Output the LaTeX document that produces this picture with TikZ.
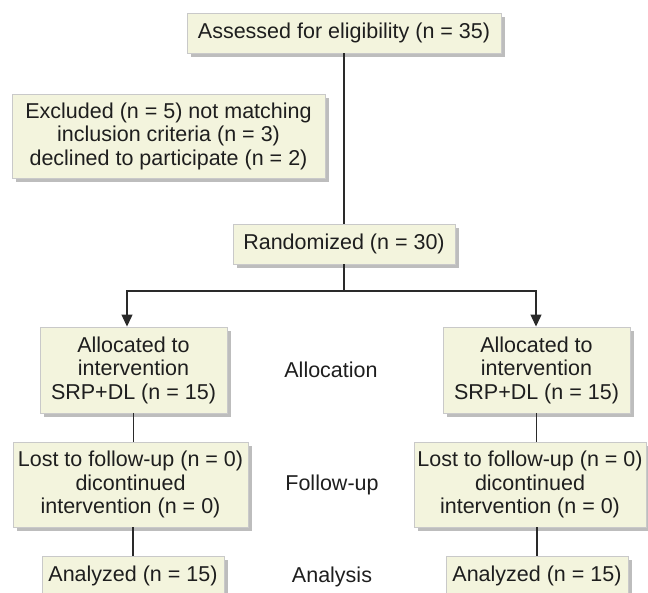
\documentclass[tikz,border=0pt]{standalone}
\usepackage{fontspec}
\setmainfont{Liberation Sans}
\usetikzlibrary{arrows.meta,shadows}
\definecolor{boxfill}{HTML}{F3F4DD}
\definecolor{boxline}{HTML}{C9C9C9}
\definecolor{shadowc}{HTML}{BDBDBD}
\definecolor{linec}{HTML}{2A2A2A}
\definecolor{textc}{HTML}{1E1E1E}
\tikzset{
  flowbox/.style={draw=boxline, line width=0.9pt, fill=boxfill, inner sep=0pt, align=center,
    text=textc, font=\fontsize{21.5}{23.5}\selectfont,
    drop shadow={shadow xshift=3.5pt, shadow yshift=-4pt, fill=shadowc, opacity=1}},
  phase/.style={inner sep=0pt, text=textc, font=\fontsize{21.5}{23.5}\selectfont},
  conn/.style={draw=linec, line width=1.2pt},
  arr/.style={conn, -{Triangle[length=12pt,width=11pt]}}
}
\begin{document}
\begin{tikzpicture}[x=1pt,y=-1pt]
\useasboundingbox (0,0) rectangle (648,593);
\node[flowbox, minimum width=314pt, minimum height=40pt] (assess) at (344,33) {Assessed for eligibility (n = 35)};
\node[flowbox, minimum width=313pt, minimum height=84pt] (excl) at (168.5,136) {Excluded (n = 5) not matching\\inclusion criteria (n = 3)\\declined to participate (n = 2)};
\node[flowbox, minimum width=222pt, minimum height=40pt] (rand) at (344,244) {Randomized (n = 30)};
\node[flowbox, minimum width=187pt, minimum height=86pt] (alloc1) at (133.5,370) {Allocated to\\intervention\\SRP+DL (n = 15)};
\node[flowbox, minimum width=187pt, minimum height=86pt] (alloc2) at (536.5,370) {Allocated to\\intervention\\SRP+DL (n = 15)};
\node[flowbox, minimum width=235pt, minimum height=85pt] (lost1) at (130.5,484.5) {Lost to follow-up (n = 0)\\dicontinued\\intervention (n = 0)};
\node[flowbox, minimum width=232pt, minimum height=85pt] (lost2) at (530,484.5) {Lost to follow-up (n = 0)\\dicontinued\\intervention (n = 0)};
\node[flowbox, minimum width=182pt, minimum height=40pt] (ana1) at (133,576) {Analyzed (n = 15)};
\node[flowbox, minimum width=182pt, minimum height=40pt] (ana2) at (537,576) {Analyzed (n = 15)};
\node[phase] (lab1) at (331,370) {Allocation};
\node[phase] (lab2) at (332,485) {Follow-up};
\node[phase] (lab3) at (332,577) {Analysis};
\coordinate (split) at (344,291);
\draw[conn] (assess.south) -- (rand.north);
\draw[conn] (rand.south) -- (split);
\draw[arr] (split) -| ([xshift=-6.5pt]alloc1.north);
\draw[arr] (split) -| ([xshift=-0.5pt]alloc2.north);
\draw[conn] (alloc1.south) -- (alloc1.south |- lost1.north);
\draw[conn] (ana1.north |- lost1.south) -- (ana1.north);
\draw[conn] (alloc2.south) -- (alloc2.south |- lost2.north);
\draw[conn] (ana2.north |- lost2.south) -- (ana2.north);
\end{tikzpicture}
\end{document}
